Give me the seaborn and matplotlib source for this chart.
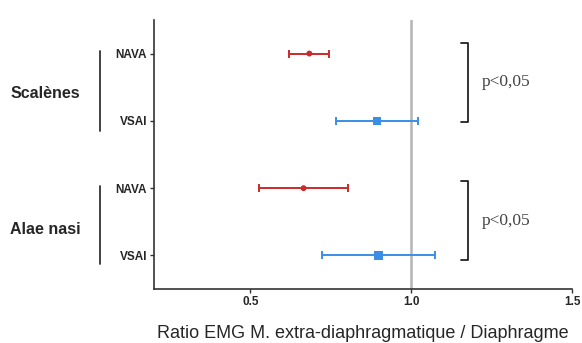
import numpy as np
import pandas as pd
import matplotlib
matplotlib.use("Agg")
import matplotlib.pyplot as plt
import matplotlib.transforms as mtransforms
import seaborn as sns

# values
groups = ["Scalènes", "Scalènes", "Alae nasi", "Alae nasi"]
modes = ["NAVA", "VSAI", "NAVA", "VSAI"]
ratio = [0.683, 0.894, 0.665, 0.898]
ci_low = [0.621, 0.767, 0.525, 0.723]
ci_high = [0.745, 1.022, 0.804, 1.075]
p_labels = ["p<0,05", "p<0,05"]

colors = {"NAVA": "#cc2a2a", "VSAI": "#3a8ee6"}

df = pd.DataFrame({"group": groups, "mode": modes, "ratio": ratio,
                   "low": ci_low, "high": ci_high})
df["pos"] = np.arange(len(df))

sns.set_style("ticks")
plt.rcParams["font.family"] = ["Liberation Sans", "DejaVu Sans"]

fig = plt.figure(figsize=(5.82, 3.43), dpi=100)
ax = fig.add_axes([0.2646, 0.157, 0.7184, 0.785])

ax.axvline(1.0, color="#b4b4b4", lw=1.8, zorder=1)

for _, r in df.iterrows():
    c = colors[r["mode"]]
    ax.errorbar(r["ratio"], r["pos"],
                xerr=[[r["ratio"] - r["low"]], [r["high"] - r["ratio"]]],
                fmt="none", ecolor=c, elinewidth=1.4, capsize=3, capthick=1.4, zorder=2)

sns.scatterplot(data=df, x="ratio", y="pos", hue="mode", style="mode", size="mode",
                sizes={"NAVA": 18, "VSAI": 34},
                palette=colors, markers={"NAVA": "o", "VSAI": "s"},
                edgecolor="none", legend=False, ax=ax, zorder=3)

ax.set_xlim(0.2, 1.5)
ax.set_ylim(3.5, -0.5)
ax.set_xticks([0.5, 1.0, 1.5])
ax.set_xticklabels(["0.5", "1.0", "1.5"], fontsize=8.5, fontweight="bold")
ax.set_yticks(df["pos"])
ax.set_yticklabels(df["mode"], fontsize=8.5, fontweight="bold")
ax.tick_params(length=3, width=1, color="#333333", pad=2)
ax.set_xlabel("Ratio EMG M. extra-diaphragmatique / Diaphragme", fontsize=13, labelpad=12)
ax.set_ylabel("")
sns.despine(ax=ax)
for s in ["left", "bottom"]:
    ax.spines[s].set_color("#333333")
    ax.spines[s].set_linewidth(1.2)

# group labels and bars on the left
trans = mtransforms.blended_transform_factory(ax.transAxes, ax.transData)
for name, y0, y1, ymid in [("Scalènes", -0.04, 1.15, 0.6), ("Alae nasi", 1.97, 3.12, 2.62)]:
    ax.plot([-0.129, -0.129], [y0, y1], color="#333333", lw=1.3, transform=trans, clip_on=False)
    ax.text(-0.26, ymid, name, transform=trans, ha="center", va="center",
            fontsize=11.5, fontweight="bold")

# significance brackets
for (y0, y1), lab in zip([(-0.16, 1.01), (1.9, 3.07)], p_labels):
    ax.plot([1.155, 1.177, 1.177, 1.155], [y0, y0, y1, y1], color="#222222", lw=1.3, clip_on=False)
    ax.text(1.22, (y0 + y1) / 2, lab, ha="left", va="center", fontsize=12.5,
            family=["Liberation Serif", "DejaVu Serif"], color="#444444")

fig.savefig("out.png", dpi=100)
